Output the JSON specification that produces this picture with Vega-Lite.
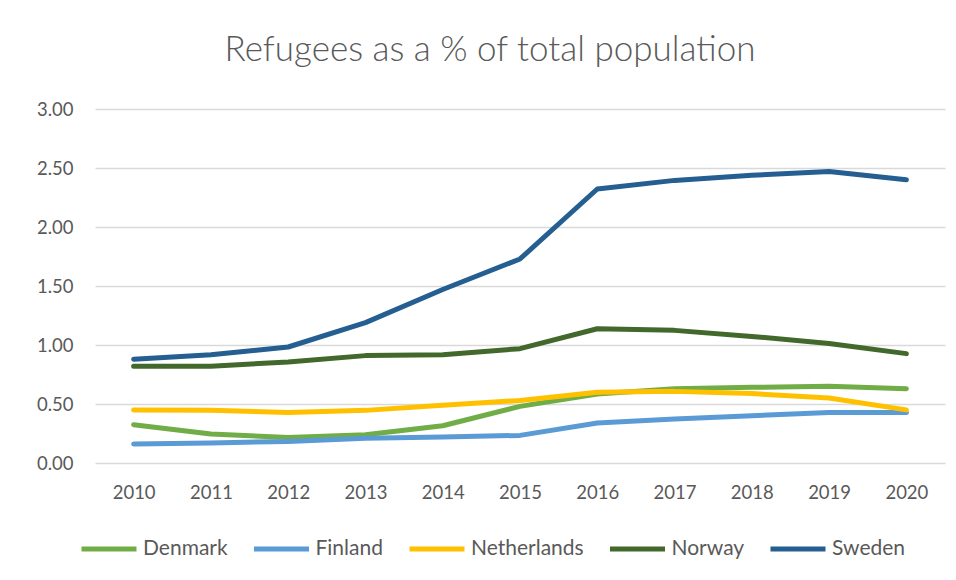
{
  "$schema": "https://vega.github.io/schema/vega-lite/v6.json",
  "width": 850,
  "height": 354,
  "autosize": "none",
  "padding": {"left": 95, "top": 109, "right": 11, "bottom": 117},
  "background": "white",
  "title": {
    "text": "Refugees as a % of total population",
    "anchor": "middle",
    "dx": -30,
    "offset": 32,
    "fontSize": 35,
    "font": "Lato",
    "fontWeight": 300,
    "color": "#595959"
  },
  "config": {
    "view": {"stroke": null},
    "font": "Lato",
    "axis": {"labelColor": "#595959", "labelFont": "Lato", "labelFontSize": 18.5, "title": null}
  },
  "data": {
    "values": [
      {"year": "2010", "country": "Denmark", "value": 0.325},
      {"year": "2011", "country": "Denmark", "value": 0.246},
      {"year": "2012", "country": "Denmark", "value": 0.217},
      {"year": "2013", "country": "Denmark", "value": 0.24},
      {"year": "2014", "country": "Denmark", "value": 0.316},
      {"year": "2015", "country": "Denmark", "value": 0.48},
      {"year": "2016", "country": "Denmark", "value": 0.585},
      {"year": "2017", "country": "Denmark", "value": 0.63},
      {"year": "2018", "country": "Denmark", "value": 0.641},
      {"year": "2019", "country": "Denmark", "value": 0.65},
      {"year": "2020", "country": "Denmark", "value": 0.63},
      {"year": "2010", "country": "Finland", "value": 0.161},
      {"year": "2011", "country": "Finland", "value": 0.17},
      {"year": "2012", "country": "Finland", "value": 0.183},
      {"year": "2013", "country": "Finland", "value": 0.209},
      {"year": "2014", "country": "Finland", "value": 0.22},
      {"year": "2015", "country": "Finland", "value": 0.234},
      {"year": "2016", "country": "Finland", "value": 0.339},
      {"year": "2017", "country": "Finland", "value": 0.373},
      {"year": "2018", "country": "Finland", "value": 0.4},
      {"year": "2019", "country": "Finland", "value": 0.429},
      {"year": "2020", "country": "Finland", "value": 0.429},
      {"year": "2010", "country": "Netherlands", "value": 0.449},
      {"year": "2011", "country": "Netherlands", "value": 0.447},
      {"year": "2012", "country": "Netherlands", "value": 0.429},
      {"year": "2013", "country": "Netherlands", "value": 0.446},
      {"year": "2014", "country": "Netherlands", "value": 0.49},
      {"year": "2015", "country": "Netherlands", "value": 0.53},
      {"year": "2016", "country": "Netherlands", "value": 0.6},
      {"year": "2017", "country": "Netherlands", "value": 0.607},
      {"year": "2018", "country": "Netherlands", "value": 0.588},
      {"year": "2019", "country": "Netherlands", "value": 0.551},
      {"year": "2020", "country": "Netherlands", "value": 0.45},
      {"year": "2010", "country": "Norway", "value": 0.82},
      {"year": "2011", "country": "Norway", "value": 0.82},
      {"year": "2012", "country": "Norway", "value": 0.856},
      {"year": "2013", "country": "Norway", "value": 0.91},
      {"year": "2014", "country": "Norway", "value": 0.918},
      {"year": "2015", "country": "Norway", "value": 0.969},
      {"year": "2016", "country": "Norway", "value": 1.138},
      {"year": "2017", "country": "Norway", "value": 1.124},
      {"year": "2018", "country": "Norway", "value": 1.073},
      {"year": "2019", "country": "Norway", "value": 1.012},
      {"year": "2020", "country": "Norway", "value": 0.927},
      {"year": "2010", "country": "Sweden", "value": 0.88},
      {"year": "2011", "country": "Sweden", "value": 0.918},
      {"year": "2012", "country": "Sweden", "value": 0.983},
      {"year": "2013", "country": "Sweden", "value": 1.19},
      {"year": "2014", "country": "Sweden", "value": 1.47},
      {"year": "2015", "country": "Sweden", "value": 1.729},
      {"year": "2016", "country": "Sweden", "value": 2.322},
      {"year": "2017", "country": "Sweden", "value": 2.395},
      {"year": "2018", "country": "Sweden", "value": 2.438},
      {"year": "2019", "country": "Sweden", "value": 2.47},
      {"year": "2020", "country": "Sweden", "value": 2.4}
    ]
  },
  "mark": {"type": "line", "strokeWidth": 5, "strokeCap": "round", "strokeJoin": "round"},
  "encoding": {
    "x": {
      "field": "year",
      "type": "ordinal",
      "scale": {"type": "point", "padding": 0.5},
      "axis": {"labelAngle": 0, "domain": false, "ticks": false, "grid": false, "labelPadding": 20}
    },
    "y": {
      "field": "value",
      "type": "quantitative",
      "scale": {"domain": [0, 3], "nice": false},
      "axis": {"values": [0, 0.5, 1, 1.5, 2, 2.5, 3], "format": ".2f", "domain": false, "ticks": false, "grid": true, "gridColor": "#D9D9D9", "gridWidth": 1.5, "labelPadding": 22}
    },
    "color": {
      "field": "country",
      "type": "nominal",
      "scale": {
        "domain": ["Denmark", "Finland", "Netherlands", "Norway", "Sweden"],
        "range": ["#70AD47", "#5B9BD5", "#FFC000", "#43682B", "#255E91"]
      },
      "legend": {
        "title": null,
        "orient": "none",
        "direction": "horizontal",
        "legendX": -16,
        "legendY": 410,
        "symbolType": "stroke",
        "symbolSize": 3025,
        "symbolStrokeWidth": 5,
        "labelFontSize": 21,
        "labelColor": "#595959",
        "labelFont": "Lato",
        "labelOffset": 4,
        "columnPadding": 15.5
      }
    }
  }
}
